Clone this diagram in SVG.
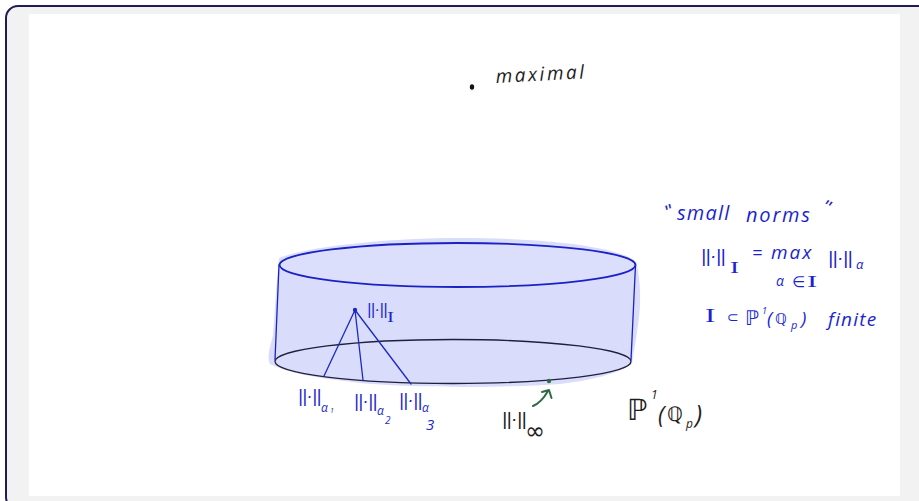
<svg xmlns="http://www.w3.org/2000/svg" width="919" height="501" viewBox="0 0 919 501">
<style>
text{font-family:"Open Sans","Liberation Sans",sans-serif;font-style:italic;opacity:.99}
text.n{font-family:"Liberation Sans",sans-serif;letter-spacing:-.4px}
text.i{font-family:"Liberation Serif",serif;font-style:normal}
text.d{font-family:"DejaVu Sans",sans-serif;font-style:normal}
.b{fill:#1a1fd0}
.k{fill:#1c1c1c}
.e{fill:none;stroke-linecap:round;stroke-linejoin:round}
</style>
<rect width="919" height="501" fill="#fff"/>
<rect x="6" y="6" width="924" height="503" rx="12" fill="#f2f2f2" stroke="#1e1b57" stroke-width="2"/>
<rect x="29" y="14" width="871" height="482" fill="#fff"/>
<g id="disc-shade">
<path d="M279 258C310 246 390 238 460 238C540 238 620 246 636 262C640 275 642 300 638 325C636 340 634 350 632 364C612 376 590 380 560 384C500 388 420 388 360 383C330 379 295 376 270 364C266 355 271 345 273 335C275 310 276 285 279 258Z" fill="#d9dcfb"/>
</g>
<g id="cylinder" class="e">
<ellipse cx="457.500" cy="265" rx="178" ry="22" stroke="#1a22c4" stroke-width="1.800" fill="#dcdffb"/>
<path d="M279 265L275 360M635.500 265L631 360" stroke="#1a22c4" stroke-width="1.300"/>
<ellipse cx="453" cy="361.500" rx="178" ry="22" stroke="#20203a" stroke-width="1.300"/>
</g>
<g id="connectors" class="e" stroke="#1a2ac0" stroke-width="1.300">
<path d="M355 310L324 376M355 310L363 380M355 310L411 384"/>
<circle cx="355" cy="310" r="1.500" fill="#1a2ac0"/>
<path d="M533 406C540 403 544 398 548 391M542 392L549 390L551.500 398" stroke="#2f6b45" stroke-width="2"/>
</g>
<g id="top-point">
<ellipse cx="472" cy="87" rx="2.200" ry="2.800" fill="#111"/>
<text x="496" y="83" font-size="19" letter-spacing="2.500" class="k" transform="rotate(-3 496 83)">maximal</text>
</g>
<g id="p-infinity">
<circle cx="549" cy="381" r="2.200" fill="#2f6b45"/>
<text x="502" y="425" font-size="19" class="k n">||·||</text>
<text x="525" y="439" font-size="24" class="k d">∞</text>
</g>
<g id="p1">
<text x="627" y="420" font-size="29" class="k d">ℙ</text>
<text x="651" y="399" font-size="12" class="k">1</text>
<text x="658" y="423" font-size="23" class="k">(</text>
<text x="667" y="421" font-size="20" class="k d">ℚ</text>
<text x="686" y="428" font-size="12" class="k">p</text>
<text x="695" y="423" font-size="25" class="k">)</text>
</g>
<g id="norm-i">
<text x="367" y="315" font-size="16" class="b n">||·||</text>
<text transform="translate(387 322) scale(1.500 1)" font-size="14" class="b i">I</text>
</g>
<g id="norm-a1">
<text x="298" y="402" font-size="18" class="b n">||·||</text>
<text x="321" y="412" font-size="12" class="b">α</text>
<text x="330" y="413" font-size="7" class="b">1</text>
</g>
<g id="norm-a2">
<text x="354" y="407" font-size="18" class="b n">||·||</text>
<text x="377" y="415" font-size="12" class="b">α</text>
<text x="385" y="424" font-size="10" class="b">2</text>
</g>
<g id="norm-a3">
<text x="399" y="406" font-size="18" class="b n">||·||</text>
<text x="422" y="412" font-size="12" class="b">α</text>
<text x="426" y="430" font-size="15" class="b">3</text>
</g>
<g id="small-norms">
<text x="663" y="219" font-size="20" class="b n" transform="rotate(-25 667 206)">"</text>
<text x="677" y="220" font-size="20" letter-spacing="1.200" class="b">small</text>
<text x="746" y="222" font-size="20" letter-spacing="1.800" class="b">norms</text>
<text x="825" y="214" font-size="20" class="b n" transform="rotate(25 828 201)">"</text>
<text x="701" y="262" font-size="19" class="b n">||·||</text>
<text transform="translate(730 273) scale(1.700 1)" font-size="16" class="b i">I</text>
<text x="752" y="259" font-size="18" class="b">=</text>
<text x="771" y="259" font-size="19" letter-spacing="2" class="b">max</text>
<text x="828" y="264" font-size="19" class="b n">||·||</text>
<text x="856" y="269" font-size="13" class="b">α</text>
<text x="776" y="286" font-size="14" class="b">α</text>
<text x="792" y="287" font-size="15" class="b d">∈</text>
<text transform="translate(807 287) scale(1.800 1)" font-size="17" class="b i">I</text>
<text transform="translate(705 322) scale(1.700 1)" font-size="18" class="b i">I</text>
<text x="727" y="322" font-size="14" class="b d">⊂</text>
<text x="745" y="325" font-size="20" class="b d">ℙ</text>
<text x="762" y="314" font-size="9" class="b">1</text>
<text x="767" y="325" font-size="19" class="b">(</text>
<text x="775" y="324" font-size="15" class="b d">ℚ</text>
<text x="791" y="329" font-size="11" class="b">p</text>
<text x="801" y="325" font-size="19" class="b">)</text>
<text x="828" y="326" font-size="19" letter-spacing="1.200" class="b">finite</text>
</g>
</svg>
